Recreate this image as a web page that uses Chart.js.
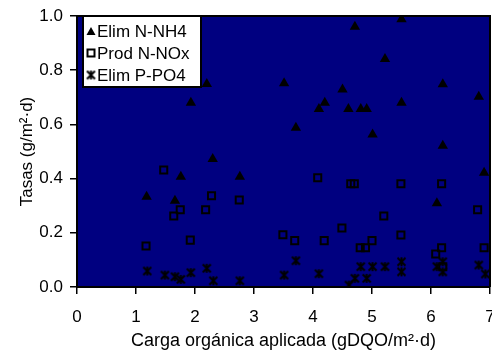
<!DOCTYPE html>
<html>
<head>
<meta charset="utf-8">
<script src="https://cdn.jsdelivr.net/npm/chart.js@4/dist/chart.umd.min.js"></script>
<style>
html,body{margin:0;padding:0;background:#fff;overflow:hidden;width:492px;height:350px;}
canvas{display:block;}
</style>
</head>
<body>
<canvas id="c" width="497" height="350"></canvas>
<script>
// ---- data ----
const nh4X = [1.18,1.42,1.66,1.76,1.93,2.20,2.30,2.76,3.51,3.71,4.10,4.20,4.50,4.60,4.71,4.81,4.91,5.01,5.22,5.50,5.50,6.10,6.20,6.20,6.81,6.90];
const nh4Y = [0.333,0.76,0.318,0.407,0.68,0.749,0.472,0.407,0.752,0.588,0.657,0.68,0.729,0.657,0.96,0.657,0.657,0.563,0.841,0.988,0.68,0.309,0.748,0.521,0.702,0.422];

const noxX = [1.17,1.47,1.64,1.75,1.92,2.18,2.28,2.75,3.49,3.69,4.08,4.19,4.49,4.64,4.70,4.80,4.89,5.00,5.20,5.49,5.49,6.08,6.18,6.18,6.20,6.79,6.90];
const noxY = [0.151,0.432,0.262,0.285,0.173,0.285,0.337,0.321,0.193,0.171,0.403,0.171,0.218,0.381,0.381,0.145,0.145,0.171,0.262,0.381,0.192,0.122,0.381,0.145,0.075,0.285,0.145];

const po4X = [1.19,1.49,1.66,1.76,1.93,2.20,2.31,2.76,3.51,3.71,4.10,4.61,4.71,4.81,4.91,5.01,5.22,5.50,5.50,6.10,6.20,6.20,6.81,6.92];
const po4Y = [0.059,0.044,0.038,0.028,0.053,0.069,0.023,0.023,0.044,0.097,0.049,0.007,0.032,0.075,0.032,0.075,0.075,0.093,0.056,0.075,0.093,0.056,0.081,0.048];

const seriesNames = ['Elim N-NH4','Prod N-NOx','Elim P-PO4'];
const xTitle = 'Carga orgánica aplicada (gDQO/m²·d)';
const yTitle = 'Tasas (g/m²·d)';

function pts(xs, ys){ return xs.map((x,i)=>({x:x, y:ys[i]})); }

// asterisk-like marker (X with vertical bar)
function makeStar(size){
  const c = document.createElement('canvas');
  c.width = size; c.height = size;
  const g = c.getContext('2d');
  g.strokeStyle = '#000'; g.lineWidth = 2;
  const m = 1.5, s = size - 1.5;
  g.beginPath();
  g.moveTo(m,m); g.lineTo(s,s);
  g.moveTo(s,m); g.lineTo(m,s);
  g.moveTo(size/2,m-0.5); g.lineTo(size/2,s+0.5);
  g.stroke();
  return c;
}
const starImg = makeStar(11);

const FONT = "'Liberation Sans', Arial, sans-serif";

const bgPlugin = {
  id:'bg',
  beforeDraw(chart){
    const {ctx, chartArea:a} = chart;
    ctx.save();
    ctx.fillStyle = '#fff';
    ctx.fillRect(0,0,chart.width,chart.height);
    ctx.fillStyle = '#000080';
    ctx.fillRect(a.left, a.top, a.right-a.left, a.bottom-a.top);
    ctx.restore();
  },
  afterDatasetsDraw(chart){
    const {ctx, chartArea:a} = chart;
    ctx.save();
    // top & right frame
    ctx.strokeStyle = '#000'; ctx.lineWidth = 2;
    ctx.beginPath();
    ctx.moveTo(a.left, a.top); ctx.lineTo(a.right, a.top); ctx.lineTo(a.right, a.bottom);
    ctx.stroke();
    // legend box
    const lx = 83, ly = 16, lw = 118, lh = 71;
    ctx.fillStyle = '#fff';
    ctx.fillRect(lx, ly, lw, lh);
    ctx.strokeStyle = '#000'; ctx.lineWidth = 2;
    ctx.strokeRect(lx, ly, lw, lh);
    ctx.font = '17px ' + FONT;
    ctx.fillStyle = '#000';
    ctx.textBaseline = 'middle';
    ctx.textAlign = 'left';
    const rows = [31.5, 53, 75];
    const mx = 91, tx = 97;
    // triangle
    ctx.beginPath();
    ctx.moveTo(mx, rows[0]-4.5); ctx.lineTo(mx+4.5, rows[0]+3.5); ctx.lineTo(mx-4.5, rows[0]+3.5); ctx.closePath();
    ctx.fill();
    // square
    ctx.lineWidth = 2;
    ctx.strokeRect(mx-3.5, rows[1]-3.5, 7, 7);
    // star
    ctx.drawImage(starImg, mx-5.5, rows[2]-5.5);
    seriesNames.forEach((n,i)=>ctx.fillText(n, tx, rows[i]+1));
    ctx.restore();
  }
};

new Chart(document.getElementById('c'), {
  type:'scatter',
  data:{
    datasets:[
      {label:seriesNames[0], data:pts(nh4X,nh4Y), pointStyle:'triangle', radius:6, backgroundColor:'#000', borderColor:'#000', borderWidth:0},
      {label:seriesNames[1], data:pts(noxX,noxY), pointStyle:'rect', radius:5, backgroundColor:'rgba(0,0,0,0)', borderColor:'#000', borderWidth:2},
      {label:seriesNames[2], data:pts(po4X,po4Y), pointStyle:starImg, radius:5}
    ]
  },
  options:{
    responsive:false,
    animation:false,
    events:[],
    layout:{padding:{top:16, right:0, left:0, bottom:0}},
    plugins:{legend:{display:false}, tooltip:{enabled:false}},
    scales:{
      x:{
        type:'linear', min:0, max:7,
        afterFit(s){ s.height = 63; s.paddingLeft = 0; s.paddingRight = 0; },
        ticks:{stepSize:1, color:'#000', font:{family:FONT, size:17}, padding:13, maxRotation:0},
        grid:{drawOnChartArea:false, tickLength:7, color:'#000', lineWidth:1.5},
        border:{color:'#000', width:2},
        title:{display:true, text:xTitle, color:'#000', font:{family:FONT, size:18, lineHeight:1.0}, padding:{top:0,bottom:0}}
      },
      y:{
        min:0, max:1,
        afterFit(s){ s.width = 77; s.paddingTop = 0; s.paddingBottom = 0; },
        ticks:{stepSize:0.2, color:'#000', font:{family:FONT, size:17}, padding:7, callback:v=>v.toFixed(1)},
        grid:{drawOnChartArea:false, tickLength:7, color:'#000', lineWidth:1.5},
        border:{color:'#000', width:2},
        title:{display:true, text:yTitle, color:'#000', font:{family:FONT, size:17}, padding:{top:17,bottom:0}}
      }
    }
  },
  plugins:[bgPlugin]
});
</script>
</body>
</html>
